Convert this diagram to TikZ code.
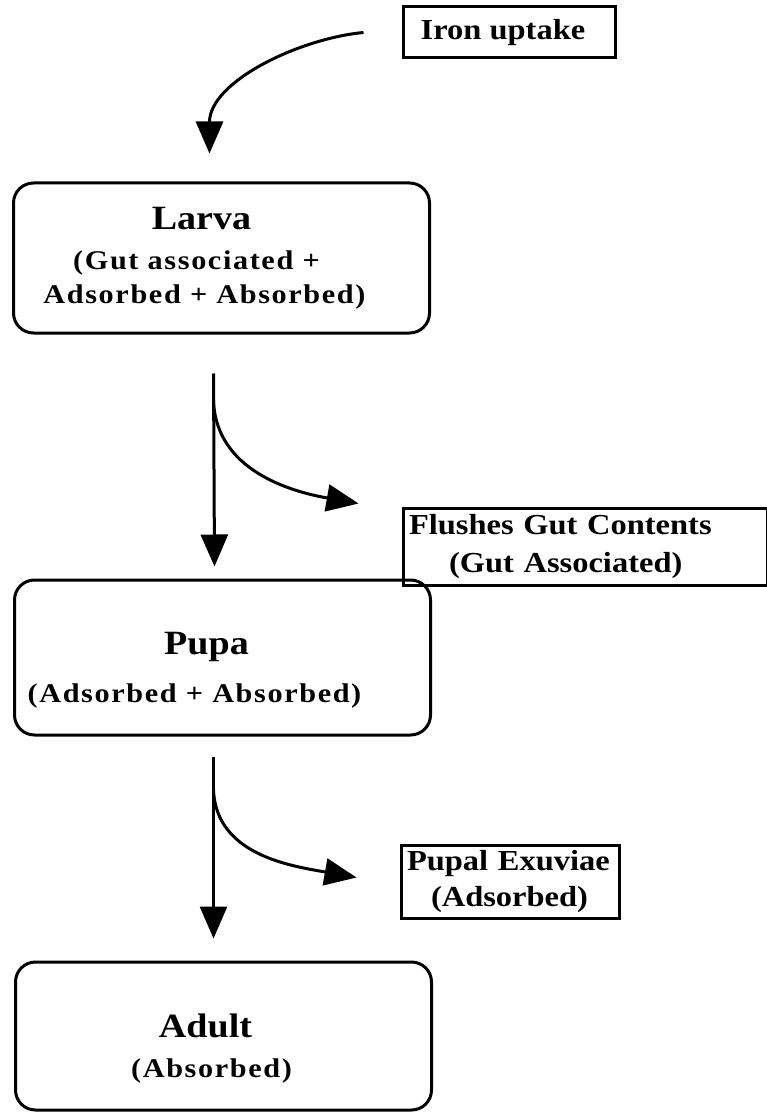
\documentclass[tikz,border=0pt]{standalone}
\usepackage{fontspec}
\setmainfont{Liberation Serif}[FakeStretch=1.12]
\newfontfamily\spacedfont{Liberation Serif}[FakeStretch=1.12, LetterSpace=6]
\usetikzlibrary{positioning,arrows.meta,calc}

\begin{document}
\begin{tikzpicture}[
  x=0.5pt, y=-0.5pt,
  font=\bfseries,
  stage/.style={draw, line width=1.5pt, rounded corners=10pt, align=center,
    minimum width=208pt, minimum height=75pt, inner sep=2pt,
    font=\spacedfont\bfseries\fontsize{13.5}{17}\selectfont},
  title/.style={font=\bfseries\fontsize{17}{20}\selectfont},
  side/.style={draw, line width=1.5pt, align=left, inner xsep=3pt, inner ysep=2pt,
    font=\bfseries\fontsize{14.5}{16}\selectfont},
  arr/.style={-{Triangle[length=16pt, width=13.5pt]}, line width=1.5pt}
]
\useasboundingbox (0,0) rectangle (766,1117);
\node[side, minimum width=106pt, minimum height=25.5pt, align=center] (iron) at (509,32.5) {Iron uptake\kern6pt};
\node[stage] (larva) at (221.5,258) {{\rmfamily\bfseries\fontsize{17}{20}\selectfont Larva}\kern20pt\\[3pt] (Gut associated +\kern25pt\\ Adsorbed + Absorbed)\kern17pt};
\node[side, text width=176pt, minimum height=38.5pt] (flush) at (585,546.5) {Flushes Gut Contents\\[3pt]\hspace*{20pt}(Gut Associated)};
\node[stage, minimum height=77.5pt] (pupa) at (222.5,657.5) {\rule{0pt}{24pt}{\rmfamily\bfseries\fontsize{17}{20}\selectfont Pupa}\kern16pt\\[7pt] (Adsorbed + Absorbed)\kern28pt};
\node[side, text width=103pt, minimum height=36.5pt] (exuv) at (510,881.5) {Pupal Exuviae\\[2pt]\hspace*{12pt}(Adsorbed)};
\node[stage, minimum height=74pt] (adult) at (223.5,1036) {\rule{0pt}{24pt}{\rmfamily\bfseries\fontsize{17}{20}\selectfont Adult}\kern18pt\\[3pt] (Absorbed)\kern12pt};
\draw[arr] ([xshift=-19pt]iron.west) .. controls +(-32pt,-3pt) and +(0pt,36pt) .. ([xshift=-6pt,yshift=14pt]larva.north);
\draw[arr] ([xshift=-4pt,yshift=-19.5pt]larva.south) -- ([xshift=-4pt,yshift=6pt]pupa.north);
\draw[arr] ([xshift=-4pt,yshift=-33pt]larva.south) to[out=-88,in=170] ([xshift=-21.5pt,yshift=21.5pt]flush.west);
\draw[arr] ([xshift=-4.5pt,yshift=-10pt]pupa.south) -- ([xshift=-5pt,yshift=11pt]adult.north);
\draw[arr] ([xshift=-4.5pt,yshift=-26.5pt]pupa.south) to[out=-88,in=170] ([xshift=-21.5pt,yshift=2pt]exuv.west);
\end{tikzpicture}
\end{document}
